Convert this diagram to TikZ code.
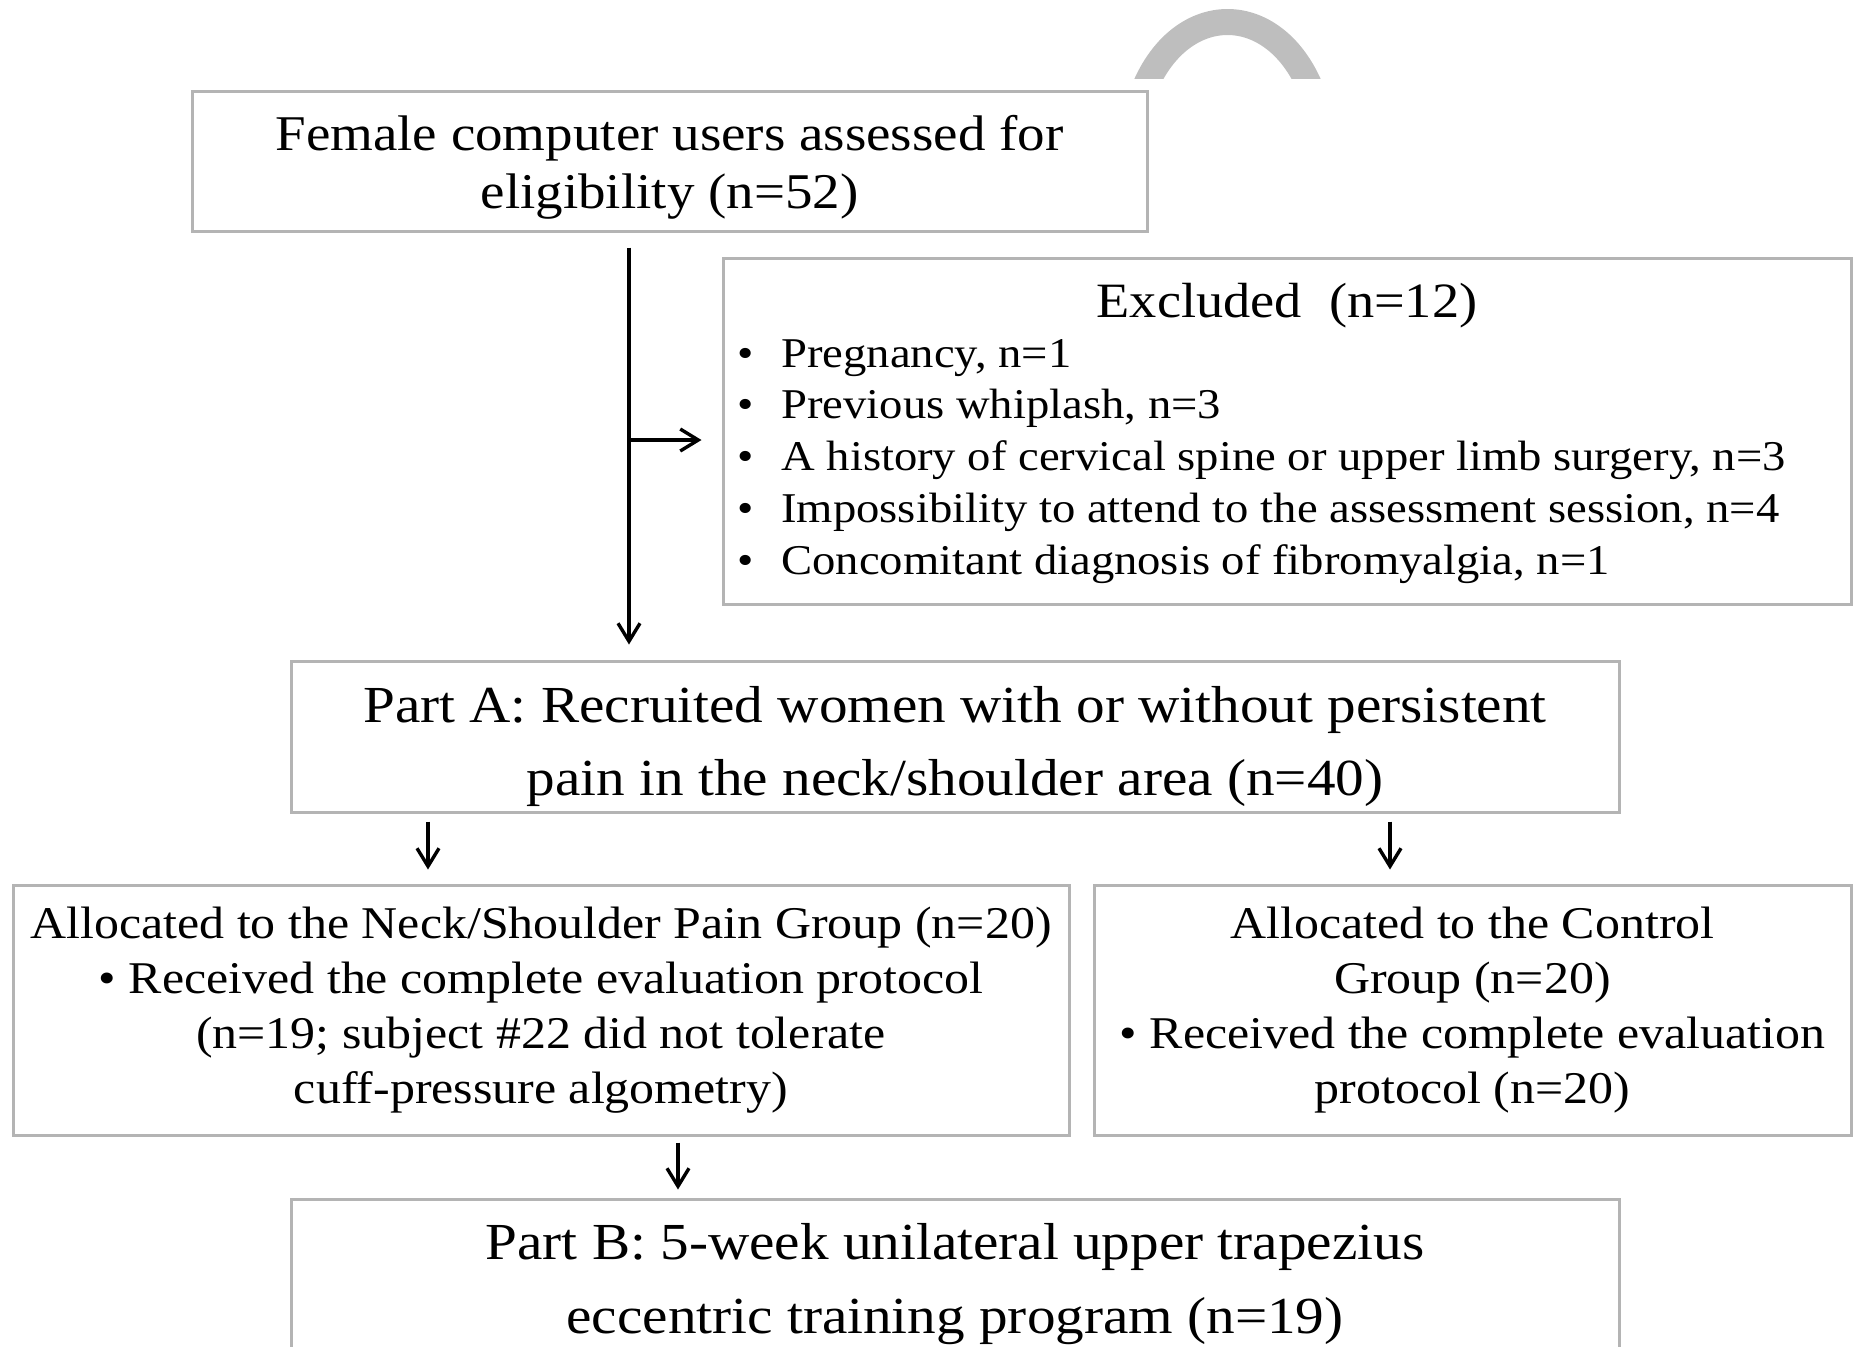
\documentclass[tikz,border=0pt]{standalone}
\usepackage{fontspec}
\setmainfont{Liberation Serif}[FakeStretch=1.1]
\usetikzlibrary{arrows.meta}
\definecolor{boxgray}{HTML}{B4B4B4}
\definecolor{arcgray}{HTML}{BEBEBE}
\tikzset{
  box/.style={draw=boxgray, line width=1.5pt, inner sep=0pt},
  txt/.style={inner sep=0pt, align=center},
  arr/.style={line width=1.7pt, -{Straight Barb[length=9pt,width=11pt,line width=1.7pt]}},
  fbig/.style={font=\fontsize{26}{36.6}\selectfont},
  fmid/.style={font=\fontsize{25}{29}\selectfont},
  fgrp/.style={font=\fontsize{22.7}{27.5}\selectfont},
  flist/.style={font=\fontsize{21.2}{25.9}\selectfont},
  ftitle/.style={font=\fontsize{24.7}{30}\selectfont},
}
\begin{document}
\begin{tikzpicture}[x=0.5pt,y=-0.5pt]
\useasboundingbox (0,0) rectangle (1858,1346);
\clip (0,0) rectangle (1858,1346);
% grey arc (cut-off logo)
\begin{scope}
  \clip (1080,0) rectangle (1400,78);
  \draw[arcgray, line width=13pt] (1140,100) .. controls (1175,-4) and (1280,-4) .. (1315,100);
\end{scope}
% boxes
\node[box, minimum width=477.5pt, minimum height=70pt] (elig) at (669.5,161) {};
\node[txt, fmid] (eligtext) at ([yshift=-3.2pt]elig.center)
  {Female computer users assessed for\\eligibility (n=52)};
\node[box, minimum width=564pt, minimum height=173pt] (excl) at (1287,431) {};
\node[ftitle, anchor=base, inner sep=0pt] (excltitle) at (1287,317) {Excluded\ \ (n=12)};
\node[flist, anchor=base west, inner sep=0pt] (excllist) at (737,367)
  {\begin{tabular}[t]{@{}l@{}}
   \makebox[22pt][l]{\textbullet}Pregnancy, n=1\\
   \makebox[22pt][l]{\textbullet}Previous whiplash, n=3\\
   \makebox[22pt][l]{\textbullet}A history of cervical spine or upper limb surgery, n=3\\
   \makebox[22pt][l]{\textbullet}Impossibility to attend to the assessment session, n=4\\
   \makebox[22pt][l]{\textbullet}Concomitant diagnosis of fibromyalgia, n=1
   \end{tabular}};
\node[box, minimum width=664pt, minimum height=75.5pt] (partA) at (955,736.5) {};
\node[txt, fbig] (partAtext) at ([yshift=-5pt]partA.center)
  {Part A: Recruited women with or without persistent\\pain in the neck/shoulder area (n=40)};
\node[box, minimum width=528pt, minimum height=125pt] (npg) at (541,1010) {};
\node[txt, fgrp] (npgtext) at (npg.center)
  {Allocated to the Neck/Shoulder Pain Group (n=20)\\
   \textbullet\ Received the complete evaluation protocol\\
   (n=19; subject \#22 did not tolerate\\
   cuff-pressure algometry)};
\node[box, minimum width=378.5pt, minimum height=125pt] (ctrl) at (1472.5,1010) {};
\node[txt, fgrp] (ctrltext) at (ctrl.center)
  {Allocated to the Control\\
   Group (n=20)\\
   \textbullet\ Received the complete evaluation\\
   protocol (n=20)};
\node[box, minimum width=664pt, minimum height=81pt] (partB) at (955,1280) {};
\node[txt, fbig] (partBtext) at ([yshift=-2pt]partB.center)
  {Part B: 5-week unilateral upper trapezius\\eccentric training program (n=19)};
% connectors
\coordinate (j) at (629,440);
\coordinate (aL) at (428,0);
\coordinate (aR) at (1390,0);
\coordinate (aB) at (678,0);
\draw[arr, shorten <=7.5pt, shorten >=7.5pt] (elig.south -| j) -- (partA.north -| j);
\draw[arr, shorten >=10pt] (j) -- (excl.west |- j);
\draw[arr, shorten <=4pt, shorten >=7pt] (partA.south -| aL) -- (npg.north -| aL);
\draw[arr, shorten <=4pt, shorten >=7pt] (partA.south -| aR) -- (ctrl.north -| aR);
\draw[arr, shorten <=3pt, shorten >=4pt] (npg.south -| aB) -- (partB.north -| aB);
\end{tikzpicture}
\end{document}
